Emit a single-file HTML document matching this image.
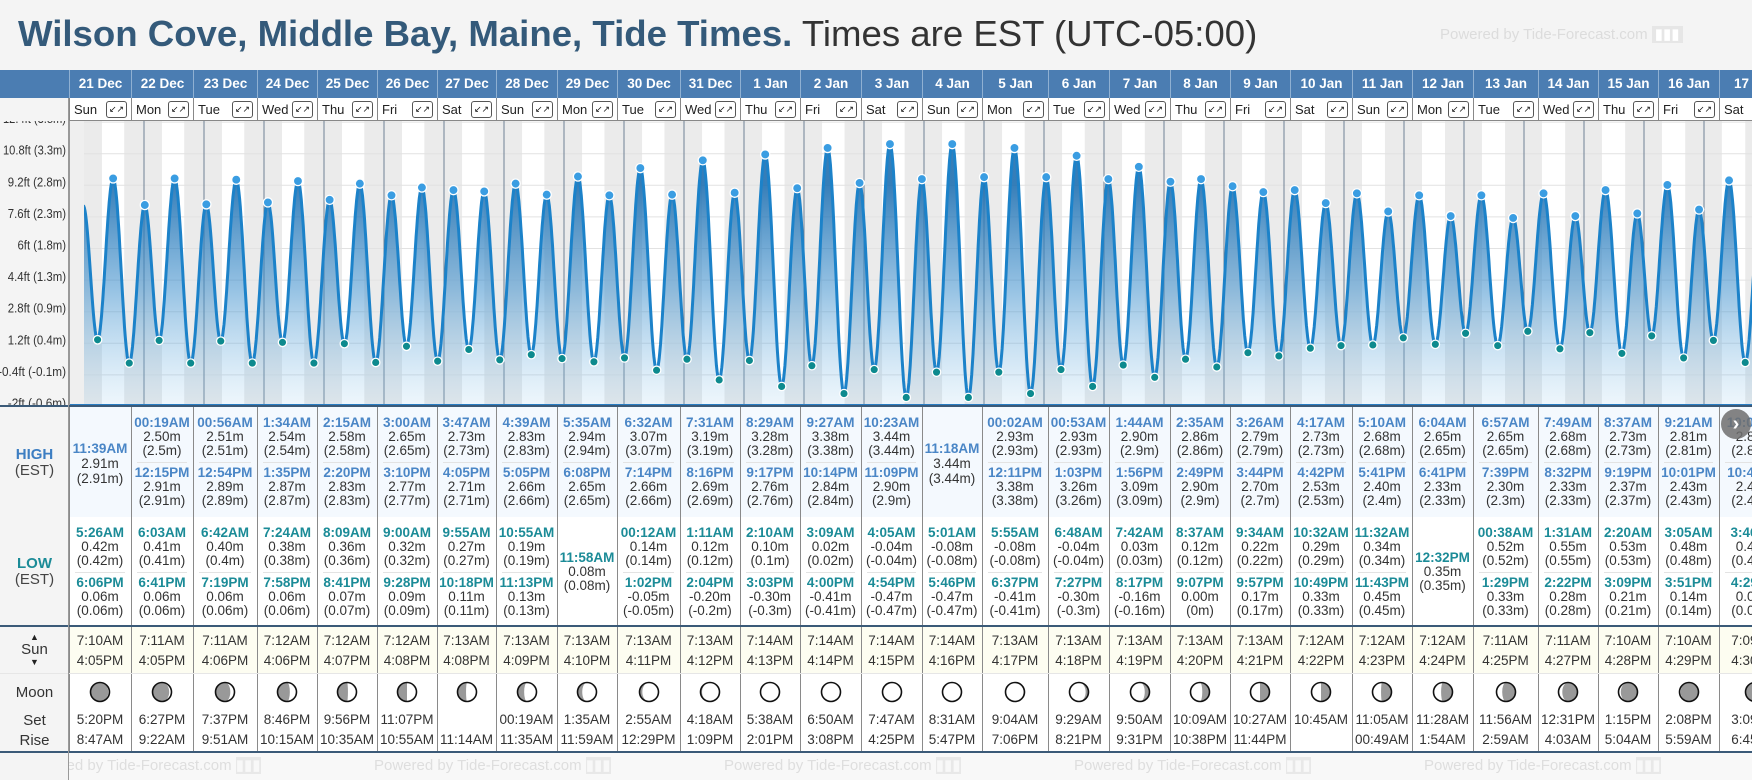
<!DOCTYPE html>
<html><head><meta charset="utf-8">
<style>
html,body{margin:0;padding:0;}
body{width:1752px;height:780px;overflow:hidden;background:#f4f4f4;position:relative;font-family:"Liberation Sans",Arial,sans-serif;}
.abs{position:absolute;}
</style></head>
<body>
<div id="title" class="abs" style="left:18px;top:12px;font-size:36px;line-height:44px;white-space:nowrap;transform-origin:0 0;"><span style="font-weight:bold;color:#345a7a;">Wilson Cove, Middle Bay, Maine, Tide Times.</span><span style="color:#333;"> Times are EST (UTC-05:00)</span></div>
<div class="abs" style="left:1440px;top:25px;font-size:15px;color:#dcdcdc;white-space:nowrap;">Powered by Tide-Forecast.com <span style="background:#e6e6e6;color:#fff;padding:0 3px;">▮▮▮</span></div>

<svg id="chart" class="abs" style="left:0;top:0" width="1752" height="780"></svg>
<div id="table" class="abs" style="left:0;top:0;width:1752px;height:780px;"></div>

<script>
const dates=["21 Dec","22 Dec","23 Dec","24 Dec","25 Dec","26 Dec","27 Dec","28 Dec","29 Dec","30 Dec","31 Dec","1 Jan","2 Jan","3 Jan","4 Jan","5 Jan","6 Jan","7 Jan","8 Jan","9 Jan","10 Jan","11 Jan","12 Jan","13 Jan","14 Jan","15 Jan","16 Jan","17 Jan"];
const weekdays=["Sun","Mon","Tue","Wed","Thu","Fri","Sat","Sun","Mon","Tue","Wed","Thu","Fri","Sat","Sun","Mon","Tue","Wed","Thu","Fri","Sat","Sun","Mon","Tue","Wed","Thu","Fri","Sat"];
const highTimes=[["11:39AM"],["00:19AM","12:15PM"],["00:56AM","12:54PM"],["1:34AM","1:35PM"],["2:15AM","2:20PM"],["3:00AM","3:10PM"],["3:47AM","4:05PM"],["4:39AM","5:05PM"],["5:35AM","6:08PM"],["6:32AM","7:14PM"],["7:31AM","8:16PM"],["8:29AM","9:17PM"],["9:27AM","10:14PM"],["10:23AM","11:09PM"],["11:18AM"],["00:02AM","12:11PM"],["00:53AM","1:03PM"],["1:44AM","1:56PM"],["2:35AM","2:49PM"],["3:26AM","3:44PM"],["4:17AM","4:42PM"],["5:10AM","5:41PM"],["6:04AM","6:41PM"],["6:57AM","7:39PM"],["7:49AM","8:32PM"],["8:37AM","9:19PM"],["9:21AM","10:01PM"],["10:01AM","10:40PM"]];
const highM=[[2.91],[2.50,2.91],[2.51,2.89],[2.54,2.87],[2.58,2.83],[2.65,2.77],[2.73,2.71],[2.83,2.66],[2.94,2.65],[3.07,2.66],[3.19,2.69],[3.28,2.76],[3.38,2.84],[3.44,2.90],[3.44],[2.93,3.38],[2.93,3.26],[2.90,3.09],[2.86,2.90],[2.79,2.70],[2.73,2.53],[2.68,2.40],[2.65,2.33],[2.65,2.30],[2.68,2.33],[2.73,2.37],[2.81,2.43],[2.88,2.49]];
const lowTimes=[["5:26AM","6:06PM"],["6:03AM","6:41PM"],["6:42AM","7:19PM"],["7:24AM","7:58PM"],["8:09AM","8:41PM"],["9:00AM","9:28PM"],["9:55AM","10:18PM"],["10:55AM","11:13PM"],["11:58AM"],["00:12AM","1:02PM"],["1:11AM","2:04PM"],["2:10AM","3:03PM"],["3:09AM","4:00PM"],["4:05AM","4:54PM"],["5:01AM","5:46PM"],["5:55AM","6:37PM"],["6:48AM","7:27PM"],["7:42AM","8:17PM"],["8:37AM","9:07PM"],["9:34AM","9:57PM"],["10:32AM","10:49PM"],["11:32AM","11:43PM"],["12:32PM"],["00:38AM","1:29PM"],["1:31AM","2:22PM"],["2:20AM","3:09PM"],["3:05AM","3:51PM"],["3:46AM","4:29PM"]];
const lowM=[[0.42,0.06],[0.41,0.06],[0.40,0.06],[0.38,0.06],[0.36,0.07],[0.32,0.09],[0.27,0.11],[0.19,0.13],[0.08],[0.14,-0.05],[0.12,-0.20],[0.10,-0.30],[0.02,-0.41],[-0.04,-0.47],[-0.08,-0.47],[-0.08,-0.41],[-0.04,-0.30],[0.03,-0.16],[0.12,0.00],[0.22,0.17],[0.29,0.33],[0.34,0.45],[0.35],[0.52,0.33],[0.55,0.28],[0.53,0.21],[0.48,0.14],[0.41,0.07]];
const prevHigh={day:-1,t:"11:42PM",m:2.49};
const sunRise=["7:10AM","7:11AM","7:11AM","7:12AM","7:12AM","7:12AM","7:13AM","7:13AM","7:13AM","7:13AM","7:13AM","7:14AM","7:14AM","7:14AM","7:14AM","7:13AM","7:13AM","7:13AM","7:13AM","7:13AM","7:12AM","7:12AM","7:12AM","7:11AM","7:11AM","7:10AM","7:10AM","7:09AM"];
const sunSet=["4:05PM","4:05PM","4:06PM","4:06PM","4:07PM","4:08PM","4:08PM","4:09PM","4:10PM","4:11PM","4:12PM","4:13PM","4:14PM","4:15PM","4:16PM","4:17PM","4:18PM","4:19PM","4:20PM","4:21PM","4:22PM","4:23PM","4:24PM","4:25PM","4:27PM","4:28PM","4:29PM","4:30PM"];
const moonRow1=["5:20PM","6:27PM","7:37PM","8:46PM","9:56PM","11:07PM","","00:19AM","1:35AM","2:55AM","4:18AM","5:38AM","6:50AM","7:47AM","8:31AM","9:04AM","9:29AM","9:50AM","10:09AM","10:27AM","10:45AM","11:05AM","11:28AM","11:56AM","12:31PM","1:15PM","2:08PM","3:09PM"];
const moonRow2=["8:47AM","9:22AM","9:51AM","10:15AM","10:35AM","10:55AM","11:14AM","11:35AM","11:59AM","12:29PM","1:09PM","2:01PM","3:08PM","4:25PM","5:47PM","7:06PM","8:21PM","9:31PM","10:38PM","11:44PM","","00:49AM","1:54AM","2:59AM","4:03AM","5:04AM","5:59AM","6:45AM"];
const moonLit=[0.06,0.12,0.22,0.35,0.45,0.5,0.55,0.65,0.75,0.85,0.92,1,1,1,0.98,0.95,0.85,0.75,0.62,0.5,0.5,0.45,0.4,0.3,0.2,0.12,0.06,0.03];
const moonWaxing=[1,1,1,1,1,1,1,1,1,1,1,1,1,1,0,0,0,0,0,0,0,0,0,0,0,0,0,0];
const yTickFt=["12.4","10.8","9.2","7.6","6","4.4","2.8","1.2","-0.4","-2"];
const yTickM=["3.8","3.3","2.8","2.3","1.8","1.3","0.9","0.4","-0.1","-0.6"];

const edges=[69,131,193,257,317,377,437,496,557,617,680,740,800,861,922,982,1048,1109,1170,1230,1290,1352,1412,1473,1538,1598,1658,1719,1790];
const CH_TOP=121,CH_BOT=406,X0=84,PX_DAY=60;
const xOf=d=>X0+d*PX_DAY;
const yOf=m=>367-m*64.8;
function hrs(s){const pm=/PM/.test(s);let [h,mi]=s.replace(/AM|PM/,'').split(':').map(Number);h=h%12+(pm?12:0);return h+mi/60;}
const NS="http://www.w3.org/2000/svg";
const svg=document.getElementById('chart');
function se(tag,attrs,parent){const e=document.createElementNS(NS,tag);for(const k in attrs)e.setAttribute(k,attrs[k]);(parent||svg).appendChild(e);return e;}

const defs=se('defs',{});
defs.innerHTML='<clipPath id="cp"><rect x="'+X0+'" y="'+CH_TOP+'" width="'+(1752-X0)+'" height="'+(CH_BOT-CH_TOP)+'"/></clipPath><linearGradient id="fg" x1="0" y1="0" x2="0" y2="1"><stop offset="0.15" stop-color="#1f6fb0" stop-opacity="0.9"/><stop offset="0.55" stop-color="#3e8fcc" stop-opacity="0.55"/><stop offset="1" stop-color="#8cc4ea" stop-opacity="0.15"/></linearGradient>';

const bg=se('rect',{x:69,y:CH_TOP,width:1752-69,height:CH_BOT-CH_TOP,fill:'#ffffff'});


se('rect',{x:69,y:CH_TOP,width:X0-69,height:CH_BOT-CH_TOP,fill:'#efefef'});
const g=se('g',{'clip-path':'url(#cp)'});
for(let d=-1;d<dates.length;d++){
  const ss=d<0?hrs(sunSet[0]):hrs(sunSet[d]);
  const sr=d+1<dates.length?hrs(sunRise[d+1]):hrs(sunRise[d]);
  const xa=xOf(d+ss/24), xb=xOf(d+1+sr/24);
  const r=se('rect',{x:xa,y:CH_TOP,width:xb-xa,height:CH_BOT-CH_TOP,fill:'#ebebeb'},g);
  
  
}
yTickFt.forEach((f,i)=>{
  const y=yOf(parseFloat(f)*0.3048);
  se('line',{x1:69,x2:1752,y1:y,y2:y,stroke:'#e2e2e2','stroke-width':1},g);
  const s=f+'ft ('+yTickM[i]+'m)';
  const t=se('text',{x:66,y:y+1,'text-anchor':'end','font-size':'13',fill:'#333','font-family':'Liberation Sans, sans-serif',textLength:(s.length*4.85).toFixed(1),lengthAdjust:'spacingAndGlyphs'});
  t.textContent=s;
  
  
});
for(let d=1;d<=dates.length;d++){
  const x=xOf(d);
  const l=se('line',{x1:x,x2:x,y1:CH_TOP,y2:CH_BOT,stroke:'#6f8194','stroke-width':1},g);
  
  
}
let ext=[{d:prevHigh.day+hrs(prevHigh.t)/24,m:prevHigh.m,hi:true,show:false}];
dates.forEach((_,i)=>{
  highTimes[i].forEach((t,j)=>ext.push({d:i+hrs(t)/24,m:highM[i][j],hi:true,show:true}));
  lowTimes[i].forEach((t,j)=>ext.push({d:i+hrs(t)/24,m:lowM[i][j],hi:false,show:true}));
});
ext.sort((a,b)=>a.d-b.d);
let pts=[];
for(let k=0;k<ext.length-1;k++){
  const a=ext[k],b=ext[k+1];
  for(let s=0;s<24;s++){const f=s/24;pts.push([xOf(a.d+(b.d-a.d)*f),yOf(a.m+(b.m-a.m)*(1-Math.cos(Math.PI*f))/2)]);}
}
const last=ext[ext.length-1];pts.push([xOf(last.d),yOf(last.m)]);
const line='M'+pts.map(p=>p[0].toFixed(1)+','+p[1].toFixed(1)).join('L');
const area=se('path',{d:line+'L'+pts[pts.length-1][0].toFixed(1)+','+CH_BOT+'L'+pts[0][0].toFixed(1)+','+CH_BOT+'Z',fill:'url(#fg)'},g);


const tl=se('path',{d:line,fill:'none',stroke:'#1c82c9','stroke-width':3},g);


ext.forEach(e=>{if(!e.show)return;
  const c=se('circle',{cx:xOf(e.d),cy:yOf(e.m),r:e.hi?4.6:4.2,fill:e.hi?'#3a9de2':'#0d8a8e',stroke:'#fff','stroke-width':1.3},g);
  
  
});
se('rect',{x:69,y:CH_BOT-2,width:1683,height:3,fill:'#2a7dc2'});
se('line',{x1:69.5,x2:69.5,y1:CH_TOP,y2:CH_BOT,stroke:'#999'});

const tb=document.getElementById('table');
function div(css,html,parent){const e=document.createElement('div');e.style.cssText='position:absolute;'+css;if(html!=null)e.innerHTML=html;(parent||tb).appendChild(e);return e;}
const rows=[[407,517,'#f4f9fe','high-row'],[517,626,'#ffffff','low-row'],[626,673,'#fdfdf1','sun-row'],[673,752,'#ffffff','moon-row']];
rows.forEach(r=>{const e=div('left:69px;top:'+r[0]+'px;width:1683px;height:'+(r[1]-r[0])+'px;background:'+r[2]+';');});
const lb=div('left:0;top:407px;width:69px;height:345px;background:#f4f4f4;');


div('left:0;top:446px;width:69px;text-align:center;font-size:15px;line-height:17px;color:#3d7ec2;font-weight:bold;','HIGH');
div('left:0;top:462px;width:69px;text-align:center;font-size:15px;line-height:17px;color:#444;','(EST)');
div('left:0;top:555px;width:69px;text-align:center;font-size:15px;line-height:17px;color:#1b8b97;font-weight:bold;','LOW');
div('left:0;top:571px;width:69px;text-align:center;font-size:15px;line-height:17px;color:#444;','(EST)');
div('left:0;top:632px;width:69px;text-align:center;font-size:9px;line-height:10px;color:#222;','▲');
div('left:0;top:641px;width:69px;text-align:center;font-size:15px;line-height:17px;color:#333;','Sun');
div('left:0;top:657px;width:69px;text-align:center;font-size:9px;line-height:10px;color:#222;','▼');
div('left:0;top:684px;width:69px;text-align:center;font-size:15px;line-height:17px;color:#333;','Moon');
div('left:0;top:712px;width:69px;text-align:center;font-size:15px;line-height:17px;color:#333;','Set');
div('left:0;top:732px;width:69px;text-align:center;font-size:15px;line-height:17px;color:#333;','Rise');
div('left:0;top:70px;width:1752px;height:28px;background:#4b7db2;');
div('left:0;top:98px;width:69px;height:23px;background:#f4f4f4;');
function txt(x,w,yc,s,cls,color){return div('left:'+x+'px;top:'+(yc-8)+'px;width:'+w+'px;text-align:center;white-space:nowrap;font-size:13.5px;line-height:16px;color:'+(color||'#333')+';'+(cls?'font-weight:bold;':''),s);}
function fmtP(m){return '('+parseFloat(m.toFixed(2)).toString()+'m)';}
dates.forEach((d,i)=>{
  const x=edges[i],w=edges[i+1]-edges[i];
  const h=div('left:'+x+'px;top:70px;width:'+w+'px;height:28px;line-height:28px;text-align:center;color:#fff;font-weight:bold;font-size:13.5px;border-left:1px solid #8fb0d2;box-sizing:border-box;',d);
  
  
  const dr=div('left:'+x+'px;top:98px;width:'+w+'px;height:23px;background:#fff;border-left:1px solid #888;border-bottom:1px solid #888;box-sizing:border-box;');
  
  
  div('left:4px;top:3px;font-size:13px;line-height:17px;color:#222;',weekdays[i],dr);
  const b=div('right:4px;top:3px;width:19px;height:15px;border:1px solid #555;border-radius:3px;font-size:9px;line-height:15px;text-align:center;color:#111;background:#fff;','↙↗',dr);
  
  
  div('left:'+x+'px;top:407px;width:1px;height:345px;background:#8a8a8a;');
  const H=highTimes[i];
  if(H.length===1){txt(x,w,449,H[0],1,'#4a86c6');txt(x,w,464,highM[i][0].toFixed(2)+'m');txt(x,w,479,fmtP(highM[i][0]));}
  else{
    H.forEach((t,j)=>{const y0=423+j*50;txt(x,w,y0,t,1,'#4a86c6');txt(x,w,y0+14,highM[i][j].toFixed(2)+'m');txt(x,w,y0+28,fmtP(highM[i][j]));});
    div('left:'+(x+6)+'px;top:462px;width:'+(w-12)+'px;height:1px;background:#e3e3e3;');
  }
  const L=lowTimes[i];
  if(L.length===1){txt(x,w,558,L[0],1,'#1b8b97');txt(x,w,572,lowM[i][0].toFixed(2)+'m');txt(x,w,586,fmtP(lowM[i][0]));}
  else{
    L.forEach((t,j)=>{const y0=533+j*50;txt(x,w,y0,t,1,'#1b8b97');txt(x,w,y0+14,lowM[i][j].toFixed(2)+'m');txt(x,w,y0+28,fmtP(lowM[i][j]));});
    div('left:'+(x+6)+'px;top:572px;width:'+(w-12)+'px;height:1px;background:#e3e3e3;');
  }
  txt(x,w,641,sunRise[i]);txt(x,w,661,sunSet[i]);
  txt(x,w,720,moonRow1[i]);txt(x,w,740,moonRow2[i]);
  const cx=x+w/2,cy=692,r=9.5,k=moonLit[i];
  const ms=document.createElementNS(NS,'svg');
  ms.setAttribute('width',24);ms.setAttribute('height',24);
  ms.style.cssText='position:absolute;left:'+(cx-12)+'px;top:'+(cy-12)+'px;';
  
  
  tb.appendChild(ms);
  se('circle',{cx:12,cy:12,r:r,fill:'#999'},ms);
  const side=moonWaxing[i]?1:0;
  const rx=Math.abs(1-2*k)*r;
  const sweepOuter=side?1:0;
  const sweepInner=(k>0.5)?sweepOuter:1-sweepOuter;
  se('path',{d:'M12,'+(12-r)+' A'+r+','+r+' 0 0,'+sweepOuter+' 12,'+(12+r)+' A'+rx.toFixed(2)+','+r+' 0 0,'+sweepInner+' 12,'+(12-r)+'Z',fill:'#fff'},ms);
  se('circle',{cx:12,cy:12,r:r,fill:'none',stroke:'#111','stroke-width':1.6},ms);
});
div('left:0;top:405px;width:1752px;height:2px;background:#3b5a78;');
div('left:0;top:625px;width:1752px;height:2px;background:#3b5a78;');
div('left:0;top:751px;width:1752px;height:2px;background:#3b5a78;');
div('left:0;top:673px;width:1752px;height:1px;background:#e6e6e6;');
div('left:68px;top:98px;width:1px;height:682px;background:#999;');
const ft=div('left:69px;top:753px;width:1683px;height:27px;background:#f8f8f8;overflow:hidden;');


[-45,305,655,1005,1355].forEach(px=>div('left:'+px+'px;top:4px;font-size:15px;line-height:18px;color:#dedede;white-space:nowrap;','Powered by Tide-Forecast.com <span style="background:#e8e8e8;color:#f8f8f8;">▮▮▮</span>',ft));
const nb=div('left:1721px;top:409px;width:30px;height:30px;border-radius:50%;background:rgba(110,110,110,0.85);color:#fff;font-size:20px;line-height:30px;text-align:center;font-weight:bold;','›');


const ti=document.getElementById('title');
ti.style.transform='scaleX('+(1239/ti.scrollWidth)+')';
</script>
</body></html>
